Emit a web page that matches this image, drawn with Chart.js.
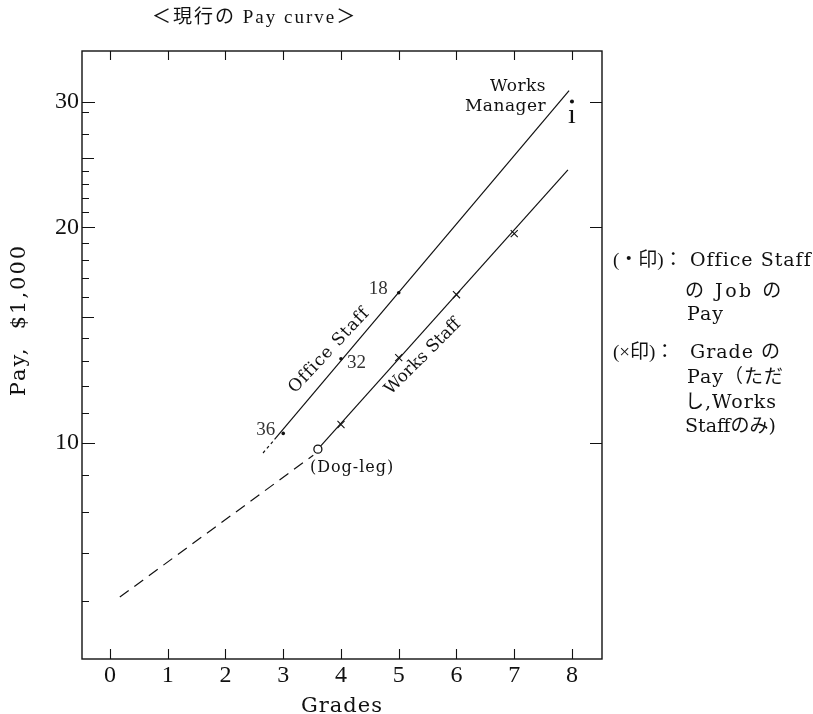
<!DOCTYPE html>
<html>
<head>
<meta charset="utf-8">
<script src="https://cdn.jsdelivr.net/npm/chart.js@4/dist/chart.umd.min.js"></script>
<style>
  html, body { margin: 0; padding: 0; background: #fff; }
  #wrap { width: 813px; height: 714px; position: relative; }
</style>
</head>
<body>
<div id="wrap"><canvas id="c" width="813" height="714"></canvas></div>
<script>
// ---------- data ----------
const gradeTicks = [0, 1, 2, 3, 4, 5, 6, 7, 8];
const payTicks = [10, 20, 30];
const payMidTicks = [15, 25];
const payMinorTicks = [6, 7, 8, 9, 11, 12, 13, 14, 16, 17, 18, 19, 21, 22, 23, 24, 27, 29];

// Office Staff pay curve (solid) and its short broken lead-in
const officeLineGrades = [2.85, 7.95];
const officeLinePay    = [10.1, 31.08];
const officeLeadGrades = [2.65, 2.85];
const officeLeadPay    = [9.67, 10.1];

// Office Staff jobs (dots) and their job numbers
const officeJobGrades = [3, 4, 5];
const officeJobPay    = [10.3, 13.1, 16.2];
const officeJobLabels = ['36', '32', '18'];

// Works Staff pay curve and grade pay (crosses)
const worksLineGrades  = [3.6, 7.93];
const worksLinePay     = [9.79, 24.07];
const worksGradeGrades = [4, 5, 6, 7];
const worksGradePay    = [10.6, 13.15, 16.1, 19.6];

// Dog-leg point and the dashed extension below it
const dogLegGrades = [3.6];
const dogLegPay    = [9.79];
const extGrades = [0.17, 3.52];
const extPay    = [6.08, 9.6];

// Works Manager
const managerGrades = [8];
const managerPay    = [30];

// ---------- helpers ----------
const pts = (xs, ys) => xs.map((x, i) => ({ x: x, y: ys[i] }));
const INK = '#111';
const SERIF = '"Liberation Serif", "Noto Sans CJK JP", serif';
const WIDE = '"DejaVu Serif", "Noto Sans CJK JP", serif';
const font = (s) => s + 'px ' + SERIF;
const wfont = (s) => s + 'px ' + WIDE;

function txt(ctx, s, x, y, o) {
  o = o || {};
  ctx.save();
  ctx.font = o.font || font(19);
  ctx.fillStyle = o.color || INK;
  ctx.textAlign = o.align || 'left';
  ctx.textBaseline = o.baseline || 'middle';
  if ('letterSpacing' in ctx) ctx.letterSpacing = (o.ls || 0) + 'px';
  ctx.translate(x, y);
  if (o.rot) ctx.rotate(o.rot);
  ctx.fillText(s, 0, 0);
  ctx.restore();
}

const framePlugin = {
  id: 'frame',
  afterDraw(chart) {
    const ctx = chart.ctx;
    const { left, right, top, bottom } = chart.chartArea;
    const xs = chart.scales.x, ys = chart.scales.y;
    ctx.save();
    ctx.strokeStyle = INK;
    ctx.lineWidth = 1.4;
    ctx.strokeRect(left, top, right - left, bottom - top);
    ctx.lineWidth = 1.1;
    ctx.beginPath();
    gradeTicks.forEach(g => {
      const px = Math.round(xs.getPixelForValue(g)) + 0.5;
      ctx.moveTo(px, bottom); ctx.lineTo(px, bottom - 10);
      ctx.moveTo(px, top); ctx.lineTo(px, top + 9);
    });
    payTicks.forEach(v => {
      const py = Math.round(ys.getPixelForValue(v)) + 0.5;
      ctx.moveTo(left, py); ctx.lineTo(left + 13, py);
      ctx.moveTo(right, py); ctx.lineTo(right - 12, py);
    });
    payMidTicks.forEach(v => {
      const py = Math.round(ys.getPixelForValue(v)) + 0.5;
      ctx.moveTo(left, py); ctx.lineTo(left + 12, py);
    });
    payMinorTicks.forEach(v => {
      const py = Math.round(ys.getPixelForValue(v)) + 0.5;
      ctx.moveTo(left, py); ctx.lineTo(left + 7, py);
    });
    ctx.stroke();
    ctx.restore();

    // title and axis titles
    txt(ctx, '＜現行の Pay curve＞', 152, 18, { font: font(19), ls: 2 });
    txt(ctx, 'Pay,  $1,000', 20, 320, { font: wfont(21), ls: 2, align: 'center', rot: -Math.PI / 2 });
    txt(ctx, 'Grades', (left + right) / 2, 712, { font: wfont(21), ls: 1, align: 'center', baseline: 'alphabetic' });

    // job numbers next to the office dots
    const offs = [[-8, -3, 'right'], [6, 4, 'left'], [-11, -4, 'right']];
    officeJobLabels.forEach((lab, i) => {
      const px = xs.getPixelForValue(officeJobGrades[i]);
      const py = ys.getPixelForValue(officeJobPay[i]);
      txt(ctx, lab, px + offs[i][0], py + offs[i][1], { font: font(19), color: '#333', align: offs[i][2] });
    });

    // Works Manager label
    const wmx = xs.getPixelForValue(officeLineGrades[1]);
    const wmy = ys.getPixelForValue(officeLinePay[1]);
    txt(ctx, 'Works', wmx - 23, wmy - 4, { font: wfont(17), ls: 0.5, align: 'right' });
    txt(ctx, 'Manager', wmx - 23, wmy + 16, { font: wfont(17), ls: 0.5, align: 'right' });

    // stem of the Works Manager mark
    const mx = xs.getPixelForValue(managerGrades[0]);
    const my = ys.getPixelForValue(managerPay[0]);
    txt(ctx, 'ı', mx, my + 21.5, { font: font(28), align: 'center', baseline: 'alphabetic' });

    // curve names along the lines
    txt(ctx, 'Office Staff', xs.getPixelForValue(3.8), ys.getPixelForValue(13.45),
        { font: wfont(17), ls: 1, align: 'center', rot: -47 * Math.PI / 180 });
    txt(ctx, 'Works Staff', xs.getPixelForValue(5.42), ys.getPixelForValue(13.18),
        { font: wfont(17), ls: 0, align: 'center', rot: -45 * Math.PI / 180 });

    // Dog-leg label
    const dx = xs.getPixelForValue(dogLegGrades[0]);
    const dy = ys.getPixelForValue(dogLegPay[0]);
    txt(ctx, '(Dog-leg)', dx - 8, dy + 19, { font: wfont(16), ls: 1 });

    // notes on the right
    const nf = { font: wfont(19), ls: 1 };
    txt(ctx, '(・印)：', 613, 261, { font: font(19) });
    txt(ctx, 'Office Staff', 690, 261, nf);
    txt(ctx, 'の Job の', 685, 292, { font: wfont(19), ls: 2.5 });
    txt(ctx, 'Pay', 687, 315, nf);
    txt(ctx, '(×印)：', 613, 353, { font: font(19) });
    txt(ctx, 'Grade の', 690, 353, nf);
    txt(ctx, 'Pay（ただ', 687, 378, nf);
    txt(ctx, 'し,Works', 685, 403, { font: wfont(19), ls: 1 });
    txt(ctx, 'Staffのみ)', 685, 427, { font: wfont(19), ls: 0 });
  }
};

const lineDs = (label, xs, ys, dash) => ({
  label, data: pts(xs, ys), showLine: true, pointRadius: 0,
  borderColor: INK, borderWidth: 1.2, borderDash: dash || [], order: 2
});

new Chart(document.getElementById('c'), {
  type: 'scatter',
  data: {
    datasets: [
      { label: 'Works Manager', data: pts(managerGrades, managerPay), pointRadius: 2,
        pointBackgroundColor: INK, pointBorderWidth: 0, order: 0 },
      { label: 'Office Staff jobs', data: pts(officeJobGrades, officeJobPay), pointRadius: 1.8,
        pointBackgroundColor: INK, pointBorderWidth: 0, order: 0 },
      { label: 'Dog-leg', data: pts(dogLegGrades, dogLegPay), pointRadius: 4,
        pointBackgroundColor: '#fff', pointBorderColor: INK, pointBorderWidth: 1.3, order: 0 },
      { label: 'Works Staff grades', data: pts(worksGradeGrades, worksGradePay), pointStyle: 'crossRot',
        pointRadius: 5, pointBorderColor: INK, pointBorderWidth: 1.1, order: 0 },
      lineDs('Office Staff', officeLineGrades, officeLinePay),
      lineDs('Office Staff lead', officeLeadGrades, officeLeadPay, [3, 3]),
      lineDs('Works Staff', worksLineGrades, worksLinePay),
      lineDs('Extension', extGrades, extPay, [11, 7])
    ]
  },
  options: {
    responsive: false,
    devicePixelRatio: 1,
    animation: false,
    events: [],
    layout: { padding: { top: 51, right: 211, bottom: 0, left: 0 } },
    plugins: { legend: { display: false }, tooltip: { enabled: false }, title: { display: false } },
    scales: {
      x: {
        type: 'linear', min: -0.485, max: 8.52,
        grid: { display: false, drawTicks: false }, border: { display: false },
        afterBuildTicks: s => { s.ticks = gradeTicks.map(v => ({ value: v })); },
        afterFit: s => { s.height = 55; },
        ticks: { color: INK, font: { family: SERIF, size: 24 }, padding: 2, maxRotation: 0,
                 callback: v => String(v) }
      },
      y: {
        type: 'logarithmic', min: 4.98, max: 35.3,
        grid: { display: false, drawTicks: false }, border: { display: false },
        afterBuildTicks: s => { s.ticks = payTicks.map(v => ({ value: v })); },
        afterFit: s => { s.width = 82; },
        ticks: { color: INK, font: { family: SERIF, size: 24 }, padding: 3,
                 callback: v => String(v) }
      }
    }
  },
  plugins: [framePlugin]
});
</script>
</body>
</html>
